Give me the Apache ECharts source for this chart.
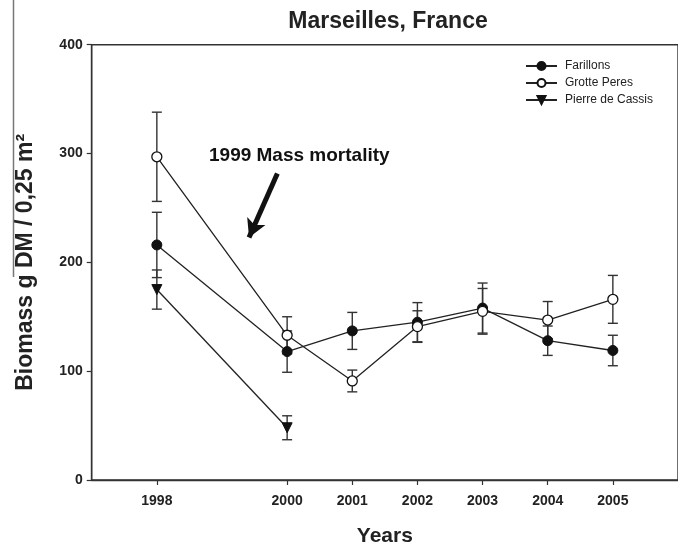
<!DOCTYPE html>
<html>
<head>
<meta charset="utf-8">
<script src="https://cdn.jsdelivr.net/npm/echarts@6/dist/echarts.min.js"></script>
<style>
html,body{margin:0;padding:0;background:#fff;}
#c{width:678px;height:552px;}
</style>
</head>
<body>
<div id="c"></div>
<script>
// ---- data ----
var years = [1998, 2000, 2001, 2002, 2003, 2004, 2005];
var xTickLabels = [1998, 2000, 2001, 2002, 2003, 2004, 2005];
var yTicks = [0, 100, 200, 300, 400];
var farillons = [216, 118, 137, 145, 158, 128, 119];
var farillonsErr = [30, 19, 17, 18, 23, 13.5, 14];
var grotte = [297, 133, 91, 141, 155, 147, 166];
var grotteErr = [41, 17, 10, 14.5, 21, 17, 22];
var pierreYears = [1998, 2000];
var pierre = [175, 48];
var pierreErr = [18, 11];
var seriesNames = ['Farillons', 'Grotte Peres', 'Pierre de Cassis'];
var arrowFrom = [1999.85, 281.6];
var arrowTo = [1999.415, 222.9];

var FONT = 'Liberation Sans, Arial, sans-serif';
var INK = '#222';

function pairs(xs, ys) { return xs.map(function (x, i) { return [x, ys[i]]; }); }
function errData(xs, ys, es) { return xs.map(function (x, i) { return [x, ys[i] - es[i], ys[i] + es[i]]; }); }

function errRender(params, api) {
  var x = api.value(0);
  var lo = api.coord([x, api.value(1)]);
  var hi = api.coord([x, api.value(2)]);
  var hw = 5;
  var st = { stroke: '#333', lineWidth: 1.4 };
  return {
    type: 'group',
    children: [
      { type: 'line', shape: { x1: lo[0], y1: lo[1], x2: hi[0], y2: hi[1] }, style: st },
      { type: 'line', shape: { x1: lo[0] - hw, y1: lo[1], x2: lo[0] + hw, y2: lo[1] }, style: st },
      { type: 'line', shape: { x1: hi[0] - hw, y1: hi[1], x2: hi[0] + hw, y2: hi[1] }, style: st }
    ]
  };
}

function errSeries(xs, ys, es) {
  return {
    type: 'custom', renderItem: errRender, data: errData(xs, ys, es),
    encode: { x: 0, y: [1, 2] }, silent: true, z: 1, animation: false
  };
}

var chart = echarts.init(document.getElementById('c'), null, { renderer: 'canvas' });
chart.setOption({
  animation: false,
  backgroundColor: '#fff',
  title: {
    text: 'Marseilles, France',
    left: 383, top: 5, textAlign: 'center',
    textStyle: { fontFamily: FONT, fontSize: 23, fontWeight: 'bold', color: INK }
  },
  grid: {
    left: 91.7, top: 44.7, bottom: 67.7, right: -13,
    show: true, borderColor: '#333', borderWidth: 1.4, backgroundColor: 'transparent'
  },
  legend: {
    orient: 'vertical', left: 525, top: 59, padding: 0,
    itemWidth: 31, itemHeight: 10, itemGap: 3,
    data: seriesNames,
    textStyle: { fontFamily: FONT, fontSize: 12, color: INK, lineHeight: 14, padding: [0, 0, 0, 3] }
  },
  xAxis: {
    type: 'value', min: 1997, max: 2006, interval: 1,
    name: 'Years', nameLocation: 'middle', nameGap: 46,
    nameTextStyle: { fontFamily: FONT, fontSize: 21, fontWeight: 'bold', color: INK },
    axisLine: { show: true, lineStyle: { color: '#333', width: 1.4 } },
    axisTick: { show: true, length: 5, customValues: xTickLabels, lineStyle: { color: '#333', width: 1.2 } },
    axisLabel: {
      customValues: xTickLabels, margin: 14,
      fontFamily: FONT, fontSize: 14, fontWeight: 'bold', color: INK,
      formatter: function (v) { return String(v); }
    },
    splitLine: { show: false }
  },
  yAxis: {
    type: 'value', min: 0, max: 400, interval: 100,
    name: 'Biomass g DM / 0,25 m²', nameLocation: 'middle', nameGap: 55,
    nameTextStyle: { fontFamily: FONT, fontSize: 23, fontWeight: 'bold', color: INK },
    axisLine: { show: true, lineStyle: { color: '#333', width: 1.4 } },
    axisTick: { show: true, length: 5, lineStyle: { color: '#333', width: 1.2 } },
    axisLabel: { margin: 9, fontFamily: FONT, fontSize: 14, fontWeight: 'bold', color: INK },
    splitLine: { show: false }
  },
  graphic: [
    { type: 'line', shape: { x1: 13.5, y1: 0, x2: 13.5, y2: 277 }, style: { stroke: '#777', lineWidth: 1.5 }, z: 100 },
    { type: 'text', x: 209, y: 156, style: { text: '1999 Mass mortality', fontFamily: FONT, fontSize: 19, fontWeight: 'bold', fill: '#111', verticalAlign: 'middle' }, z: 100 }
  ],
  series: [
    errSeries(years, farillons, farillonsErr),
    errSeries(years, grotte, grotteErr),
    errSeries(pierreYears, pierre, pierreErr),
    {
      name: 'Farillons', type: 'line', data: pairs(years, farillons), z: 3,
      symbol: 'circle', symbolSize: 10, showSymbol: true,
      lineStyle: { color: INK, width: 1.3 },
      itemStyle: { color: '#111', borderColor: '#111', borderWidth: 1 }
    },
    {
      name: 'Grotte Peres', type: 'line', data: pairs(years, grotte), z: 4,
      symbol: 'circle', symbolSize: 10, showSymbol: true,
      lineStyle: { color: INK, width: 1.3 },
      itemStyle: { color: '#fff', borderColor: '#111', borderWidth: 1.3 },
      markLine: {
        silent: true, animation: false,
        symbol: ['none', 'arrow'], symbolSize: [15, 18],
        label: { show: false },
        lineStyle: { color: '#111', width: 5, type: 'solid' },
        data: [[{ coord: arrowFrom }, { coord: arrowTo }]]
      }
    },
    {
      name: 'Pierre de Cassis', type: 'line', data: pairs(pierreYears, pierre), z: 3,
      symbol: 'triangle', symbolRotate: 180, symbolSize: 10, showSymbol: true,
      lineStyle: { color: INK, width: 1.3 },
      itemStyle: { color: '#111', borderColor: '#111', borderWidth: 1 }
    }
  ]
});
</script>
</body>
</html>
